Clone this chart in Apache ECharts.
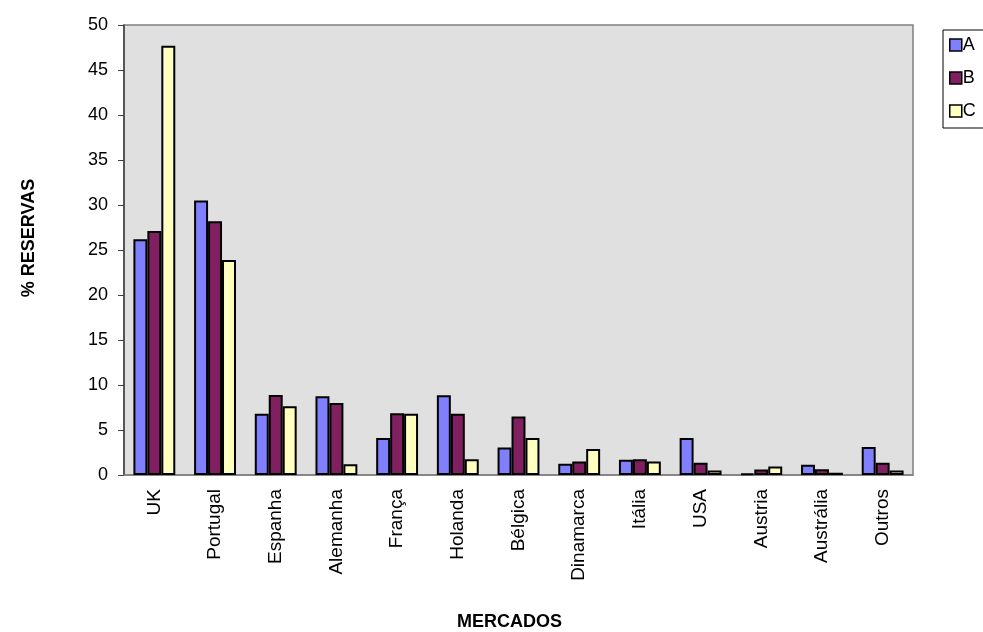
<!DOCTYPE html>
<html>
<head>
<meta charset="utf-8">
<script src="https://cdn.jsdelivr.net/npm/echarts@6/dist/echarts.min.js"></script>
<style>
  html, body { margin: 0; padding: 0; background: #ffffff; }
  #chart { width: 983px; height: 632px; }
</style>
</head>
<body>
<div id="chart"></div>
<script>
// Markets and reservation shares (%) for series A, B, C
const mercados = ['UK', 'Portugal', 'Espanha', 'Alemanha', 'França', 'Holanda', 'Bélgica', 'Dinamarca', 'Itália', 'USA', 'Austria', 'Austrália', 'Outros'];
const serieA = [26.2, 30.5, 6.8, 8.75, 4.1, 8.85, 3.05, 1.25, 1.7, 4.1, 0.15, 1.15, 3.1];
const serieB = [27.1, 28.2, 8.9, 8.0, 6.85, 6.8, 6.5, 1.5, 1.75, 1.35, 0.6, 0.65, 1.35];
const serieC = [47.7, 23.9, 7.65, 1.2, 6.8, 1.75, 4.1, 2.9, 1.5, 0.5, 0.95, 0.25, 0.5];
const yTicks = { min: 0, max: 50, interval: 5 };

const font = 'Liberation Sans, Arial, sans-serif';
const chart = echarts.init(document.getElementById('chart'), null, { renderer: 'canvas' });

function barSeries(name, data, color) {
  return {
    name: name,
    type: 'bar',
    data: data,
    barGap: '0%',
    barCategoryGap: '31%',
    itemStyle: { color: color, borderColor: '#000000', borderWidth: 2 },
    emphasis: { disabled: true }
  };
}

chart.setOption({
  animation: false,
  backgroundColor: '#ffffff',
  grid: {
    left: 124, top: 25, width: 789, height: 450,
    containLabel: false,
    outerBoundsMode: 'none',
    show: true, backgroundColor: '#e0e0e0', borderColor: '#808080', borderWidth: 1.5
  },
  legend: {
    left: 943, top: 30,
    orient: 'vertical',
    itemWidth: 12, itemHeight: 12, itemGap: 15,
    padding: [6, 40, 8, 6],
    borderColor: '#000000', borderWidth: 1,
    icon: 'rect',
    itemStyle: { borderColor: '#000000', borderWidth: 1.5 },
    textStyle: { fontFamily: font, fontSize: 18, color: '#000000', padding: [0, 0, 0, -4] },
    data: ['A', 'B', 'C']
  },
  xAxis: {
    type: 'category',
    data: mercados,
    name: 'MERCADOS',
    nameLocation: 'middle',
    nameGap: 138,
    nameTextStyle: { fontFamily: font, fontSize: 18, fontWeight: 'bold', color: '#000000', padding: [0, 18, 0, 0] },
    axisLine: { lineStyle: { color: '#808080', width: 1.5 } },
    axisTick: { show: false },
    axisLabel: { rotate: 90, margin: 14, fontFamily: font, fontSize: 19, color: '#000000' }
  },
  yAxis: {
    type: 'value',
    min: yTicks.min, max: yTicks.max, interval: yTicks.interval,
    name: '% RESERVAS',
    nameLocation: 'middle',
    nameGap: 86,
    nameTextStyle: { fontFamily: font, fontSize: 18, fontWeight: 'bold', color: '#000000', padding: [0, 0, 0, 24] },
    axisLine: { show: true, lineStyle: { color: '#404040', width: 1.5 } },
    axisTick: { show: true, length: 6, lineStyle: { color: '#404040' } },
    splitLine: { show: false },
    axisLabel: { margin: 16, fontFamily: font, fontSize: 18, color: '#000000' }
  },
  series: [
    barSeries('A', serieA, '#8080ff'),
    barSeries('B', serieB, '#802060'),
    barSeries('C', serieC, '#ffffc0')
  ]
});
</script>
</body>
</html>
